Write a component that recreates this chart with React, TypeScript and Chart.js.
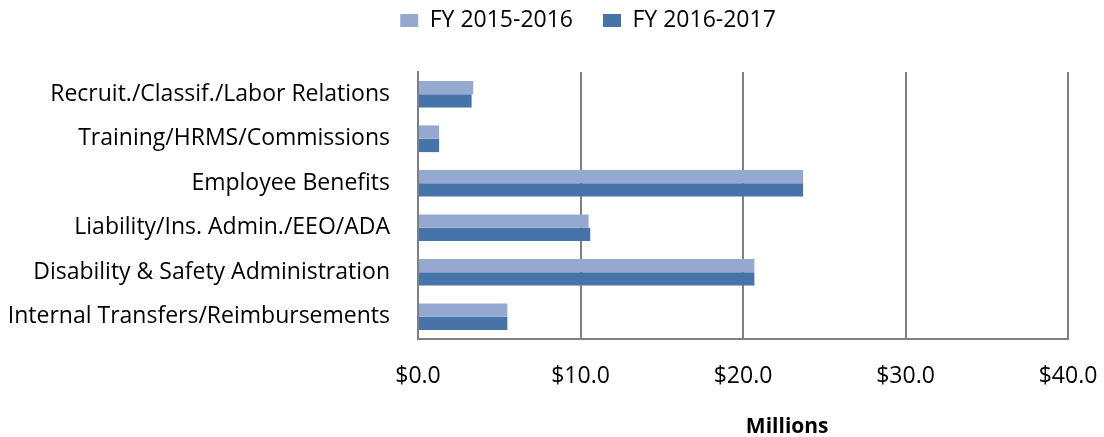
import React, { useEffect, useRef } from "react";
import { Chart, registerables } from "chart.js";

Chart.register(...registerables);

const categories = [
  "Recruit./Classif./Labor Relations",
  "Training/HRMS/Commissions",
  "Employee Benefits",
  "Liability/Ins. Admin./EEO/ADA",
  "Disability & Safety Administration",
  "Internal Transfers/Reimbursements",
];
const fy1516 = [3.4, 1.3, 23.7, 10.5, 20.7, 5.5];
const fy1617 = [3.3, 1.3, 23.7, 10.6, 20.7, 5.5];
const seriesNames = ["FY 2015-2016", "FY 2016-2017"];
const axisTitle = "Millions";

const FONT = "'Open Sans', Lato, sans-serif";

const titlePlugin = {
  id: "millionsTitle",
  afterDraw(chart: any) {
    const { ctx, chartArea } = chart;
    ctx.save();
    ctx.font = `bold 21px ${FONT}`;
    ctx.fillStyle = "#000";
    ctx.textAlign = "center";
    ctx.textBaseline = "middle";
    const x = chartArea.left + (chartArea.right - chartArea.left) * 0.568;
    ctx.fillText(axisTitle, x, chartArea.bottom + 88);
    ctx.restore();
  },
};

const legendShift = {
  id: "legendShift",
  beforeInit(chart: any) {
    const orig = chart.legend.fit;
    chart.legend.fit = function () {
      orig.call(this);
      this.height = 72;
    };
  },
  afterLayout(chart: any) {
    const lg = chart.legend;
    lg.left += 54;
    lg.right += 54;
    lg.top -= 21;
    lg.bottom -= 21;
  },
};

export default function App() {
  const ref = useRef<HTMLCanvasElement>(null);
  useEffect(() => {
    if (!ref.current) return;
    const chart = new Chart(ref.current, {
      type: "bar",
      data: {
        labels: categories,
        datasets: [
          {
            label: seriesNames[0],
            data: fy1516,
            backgroundColor: "#95A9D0",
            categoryPercentage: 0.6,
            barPercentage: 1.0,
          },
          {
            label: seriesNames[1],
            data: fy1617,
            backgroundColor: "#4674A8",
            categoryPercentage: 0.6,
            barPercentage: 1.0,
          },
        ],
      },
      options: {
        indexAxis: "y",
        animation: false,
        responsive: true,
        maintainAspectRatio: false,
        events: [],
        layout: { padding: { left: 0, right: 36, top: 0, bottom: 0 } },
        plugins: {
          legend: {
            position: "top",
            labels: {
              font: { family: FONT, size: 23 },
              color: "#000",
              boxWidth: 18,
              boxHeight: 13,
              padding: 30,
            },
          },
          tooltip: { enabled: false },
        },
        scales: {
          x: {
            min: 0,
            max: 40,
            ticks: {
              stepSize: 10,
              padding: 24,
              color: "#000",
              font: { family: FONT, size: 23 },
              callback: (v: any) => "$" + Number(v).toFixed(1),
            },
            grid: { color: "#808080", lineWidth: 2, drawTicks: false },
            border: { color: "#808080", width: 2 },
            afterFit: (s: any) => {
              s.height = 98;
              s.paddingLeft = 0;
              s.paddingRight = 0;
            },
          },
          y: {
            ticks: {
              padding: 28,
              color: "#000",
              font: { family: FONT, size: 23 },
            },
            grid: { display: false, drawTicks: false },
            border: { color: "#808080", width: 2 },
            afterFit: (s: any) => {
              s.width = 418;
            },
          },
        },
      },
      plugins: [titlePlugin, legendShift],
    });
    return () => chart.destroy();
  }, []);
  return (
    <div style={{ position: "fixed", left: 0, top: 0, width: 1104, height: 437 }}>
      <canvas ref={ref} />
    </div>
  );
}
